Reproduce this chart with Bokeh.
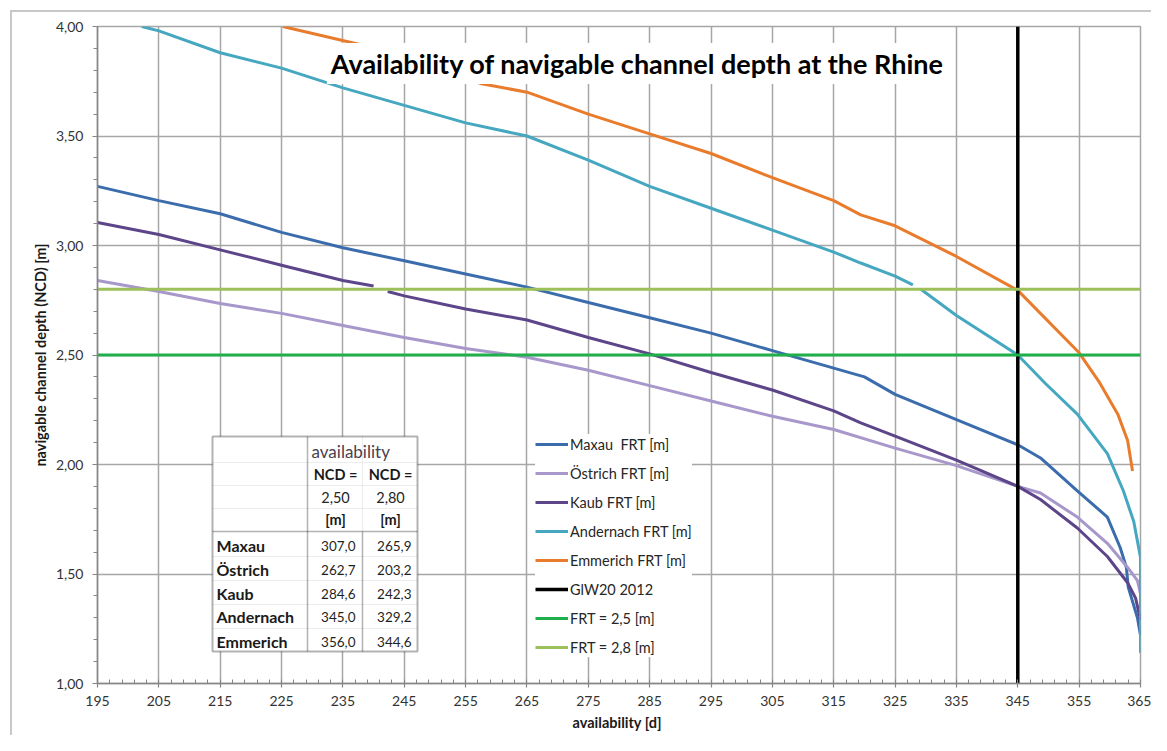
import numpy as np
from bokeh.plotting import figure
from bokeh.models import FixedTicker, Range1d, Label, BoxAnnotation
from bokeh.embed import file_html
from bokeh.resources import INLINE

NaN = float("nan")

# ---------------- data ----------------
x_ticks = [195, 205, 215, 225, 235, 245, 255, 265, 275, 285, 295, 305, 315, 325, 335, 345, 355, 365]
x_tick_labels = ["195", "205", "215", "225", "235", "245", "255", "265", "275", "285",
                 "295", "305", "315", "325", "335", "345", "355", "365"]
y_ticks = [1.0, 1.5, 2.0, 2.5, 3.0, 3.5, 4.0]
y_tick_labels = ["1,00", "1,50", "2,00", "2,50", "3,00", "3,50", "4,00"]

maxau_days = [195, 205, 215, 225, 235, 245, 255, 265, 275, 285, 295, 305, 315, 320, 325, 335,
              345, 348.7, 354.7, 359.6, 361.7, 362.7, 363.0, 364.5, 365]
maxau_ncd = [3.27, 3.205, 3.145, 3.06, 2.99, 2.93, 2.87, 2.81, 2.74, 2.67, 2.60, 2.52, 2.44, 2.40, 2.32, 2.205,
             2.09, 2.03, 1.88, 1.76, 1.62, 1.53, 1.44, 1.30, 1.22]

oestrich_days = [195, 205, 215, 225, 235, 245, 255, 265, 275, 285, 295, 305, 315, 325, 335,
                 345, 348.7, 354.7, 359.6, 362.9, 364.5, 365]
oestrich_ncd = [2.84, 2.79, 2.735, 2.69, 2.635, 2.58, 2.53, 2.49, 2.43, 2.36, 2.29, 2.22, 2.16, 2.075, 1.995,
                1.90, 1.87, 1.76, 1.64, 1.53, 1.47, 1.41]

kaub_days = [195, 205, 215, 225, 235, 240, NaN, 242.3, 245, 255, 265, 275, 285, 295, 305, 315, 319.4, 325, 335,
             345, 348.7, 354.7, 359.6, 362.9, 364.2, 365]
kaub_ncd = [3.105, 3.05, 2.98, 2.91, 2.84, 2.815, NaN, 2.79, 2.77, 2.71, 2.66, 2.58, 2.505, 2.42, 2.34, 2.245, 2.19, 2.13, 2.02,
            1.90, 1.84, 1.71, 1.58, 1.46, 1.39, 1.29]

andernach_days = [202.2, 205, 215, 225, 235, 245, 255, 265, 275, 285, 295, 305, 315, 319.4, 325, 327.9, NaN,
                  329.2, 335, 345, 349.5, 354.7, 359.6, 362.2, 363.9, 364.5, 365, 365]
andernach_ncd = [4.00, 3.98, 3.88, 3.81, 3.72, 3.64, 3.56, 3.50, 3.39, 3.27, 3.17, 3.07, 2.97, 2.92, 2.86, 2.82, NaN,
                 2.80, 2.68, 2.50, 2.37, 2.23, 2.05, 1.88, 1.74, 1.65, 1.575, 1.14]

emmerich_days = [225.2, 237.4, 257.4, 265, 275, 285, 295, 305, 315, 319.4, 325, 335, 345, 355,
                 358.2, 361.3, 362.9, 363.7]
emmerich_ncd = [4.00, 3.92, 3.74, 3.70, 3.60, 3.51, 3.42, 3.31, 3.205, 3.14, 3.09, 2.95, 2.795, 2.51,
                2.38, 2.23, 2.11, 1.97]

glw20_day = 345
frt_levels = [2.5, 2.8]

series_names = ["Maxau  FRT [m]", "Östrich FRT [m]", "Kaub FRT [m]", "Andernach FRT [m]", "Emmerich FRT [m]"]
ref_names = ["GlW20 2012", "FRT = 2,5 [m]", "FRT = 2,8 [m]"]

table_stations = ["Maxau", "Östrich", "Kaub", "Andernach", "Emmerich"]
table_ncd_250 = ["307,0", "262,7", "284,6", "345,0", "356,0"]
table_ncd_280 = ["265,9", "203,2", "242,3", "329,2", "344,6"]

title_text = "Availability of navigable channel depth at the Rhine"

# ---------------- styles ----------------
colors = ["#3B6DAD", "#A797CB", "#5C4589", "#46A7C0", "#E97C2C"]
black = "#000000"
green = "#1FAF4B"
lightgreen = "#9CC05A"
grid_col = "#A6A6A6"
FONT = "Lato"

W, H = 1151, 735
X0, X1 = 195, 365
Y0, Y1 = 1.0, 4.0
# frame placement (canvas pixels)
FL, FR, FT, FB = 97, 1140, 26, 683

p = figure(width=W, height=H, output_backend="svg", toolbar_location=None,
           x_range=Range1d(X0, X1), y_range=Range1d(Y0, Y1),
           min_border_left=FL, min_border_right=W - FR, min_border_top=FT,
           min_border_bottom=H - FB)
p.background_fill_color = "white"
p.border_fill_color = "white"
p.border_fill_alpha = 0.0
p.outline_line_color = grid_col
p.outline_line_width = 1.5
# light frame lines of the chart area (top and left), painted behind the transparent border area
p.styles = {
    "background-color": "white",
    "background-image": "linear-gradient(#C8C8C8, #C8C8C8), linear-gradient(#C8C8C8, #C8C8C8)",
    "background-size": "1141px 2px, 2px 725px",
    "background-position": "10px 10px, 10px 10px",
    "background-repeat": "no-repeat",
}

def dx(px):
    return X0 + (px - FL) * (X1 - X0) / (FR - FL)

def dy(py):
    return Y1 - (py - FT) * (Y1 - Y0) / (FB - FT)

# axes
p.xaxis.ticker = FixedTicker(ticks=x_ticks, minor_ticks=list(np.arange(X0, X1 + 0.1, 2.0)))
p.xaxis.major_label_overrides = {t: l for t, l in zip(x_ticks, x_tick_labels)}
p.yaxis.ticker = FixedTicker(ticks=y_ticks, minor_ticks=list(np.round(np.arange(Y0, Y1 + 0.01, 0.1), 2)))
p.yaxis.major_label_overrides = {t: l for t, l in zip(y_ticks, y_tick_labels)}
for ax in (p.xaxis, p.yaxis):
    ax.axis_line_color = "#868686"
    ax.axis_line_width = 1.5
    ax.major_tick_line_color = "#868686"
    ax.minor_tick_line_color = "#868686"
    ax.major_tick_line_width = 1.2
    ax.minor_tick_line_width = 1
    ax.major_label_text_font = FONT
    ax.major_label_text_font_size = "14px"
    ax.major_label_text_color = "#333333"
    ax.axis_label_text_font = FONT
    ax.axis_label_text_font_style = "bold"
    ax.axis_label_text_font_size = "14.5px"
    ax.axis_label_text_color = "#1a1a1a"
p.xaxis.major_tick_in = 0
p.xaxis.major_tick_out = 4
p.xaxis.minor_tick_in = 4
p.xaxis.minor_tick_out = 0
p.xaxis.major_label_standoff = 8
p.xaxis.axis_label = "availability  [d]"
p.xaxis.axis_label_standoff = 5
p.yaxis.major_tick_in = 0
p.yaxis.major_tick_out = 5
p.yaxis.minor_tick_in = 0
p.yaxis.minor_tick_out = 4
p.yaxis.major_label_standoff = 9
p.yaxis.axis_label = "navigable channel depth (NCD) [m]"
p.yaxis.axis_label_standoff = 4

p.xgrid.ticker = FixedTicker(ticks=x_ticks)
p.ygrid.ticker = FixedTicker(ticks=y_ticks)
for g in (p.xgrid, p.ygrid):
    g.grid_line_color = grid_col
    g.grid_line_width = 1.5

# series
all_days = [maxau_days, oestrich_days, kaub_days, andernach_days, emmerich_days]
all_ncd = [maxau_ncd, oestrich_ncd, kaub_ncd, andernach_ncd, emmerich_ncd]
for d, v, c, n in zip(all_days, all_ncd, colors, series_names):
    p.line(d, v, line_color=c, line_width=3, legend_label=n)

p.line([glw20_day, glw20_day], [Y0, Y1], line_color=black, line_width=3.5, legend_label=ref_names[0])
p.line([X0, X1], [frt_levels[0], frt_levels[0]], line_color=green, line_width=3, legend_label=ref_names[1])
p.line([X0, X1], [frt_levels[1], frt_levels[1]], line_color=lightgreen, line_width=3, legend_label=ref_names[2])

# legend
lg = p.legend[0]
lg.location = (438, 26)
lg.background_fill_color = "white"
lg.background_fill_alpha = 1.0
lg.border_line_color = None
lg.label_text_font = FONT
lg.label_text_font_size = "14.5px"
lg.label_text_color = "#262626"
lg.glyph_width = 33
lg.glyph_height = 20
lg.label_height = 20
lg.label_standoff = 2
lg.spacing = 9
lg.padding = 6
lg.margin = 0

# title (white box covers the lines beneath it)
p.add_layout(Label(x=dx(637), y=dy(63), text=title_text, text_align="center", text_baseline="middle",
                   text_font=FONT, text_font_style="bold", text_font_size="27px", text_color="#000000",
                   background_fill_color="white", background_fill_alpha=1.0, padding=4))

# ---------------- table ----------------
def box(l, r, t, b, **kw):
    p.add_layout(BoxAnnotation(left=dx(l), right=dx(r), top=dy(t), bottom=dy(b), **kw))

TL, TR, TT, TB = 212, 417, 436, 651
C1, C2 = 307, 362
HSEP = 531
box(TL, TR, TT, TB, fill_color="white", fill_alpha=1.0, line_color=None)
faint = "#DCDCDC"
for yy in [462, 485, 508, 556, 580, 604, 628]:
    box(TL, TR, yy, yy, fill_alpha=0, line_color=faint, line_width=1)
box(C2, C2, TT, HSEP, fill_alpha=0, line_color=faint, line_width=1)
box(TL, TR, TT, TB, fill_alpha=0, line_color="black", line_width=2)
box(C1, C1, TT, TB, fill_alpha=0, line_color="black", line_width=1.5)
box(C2, C2, HSEP, TB, fill_alpha=0, line_color="black", line_width=1.5)
box(TL, TR, HSEP, HSEP, fill_alpha=0, line_color="black", line_width=1.5)

def txt(px, py, s, align="left", bold=False, color="#262626", size="15px"):
    p.add_layout(Label(x=dx(px), y=dy(py), text=s, text_align=align, text_baseline="middle",
                       text_font=FONT, text_font_style="bold" if bold else "normal",
                       text_font_size=size, text_color=color))

txt(311, 451, "availability", color="#4a4050", size="17px")
for cx in (335, 390):
    txt(cx, 474, "NCD =", align="center", bold=True, color="#1a1a1a", size="14.5px")
    txt(cx, 519, "[m]", align="center", bold=True, color="#1a1a1a", size="14.5px")
txt(335, 497, "2,50", align="center", size="14.5px")
txt(390, 497, "2,80", align="center", size="14.5px")
row_y = [545, 569, 593, 616, 641]
for ry, name, a, b in zip(row_y, table_stations, table_ncd_250, table_ncd_280):
    txt(216, ry, name, bold=True, color="#1a1a1a", size="16px")
    txt(355, ry, a, align="right", size="13.5px", color="#1f1f1f")
    txt(411, ry, b, align="right", size="13.5px", color="#1f1f1f")

open("out.html", "w").write(file_html(p, INLINE))
